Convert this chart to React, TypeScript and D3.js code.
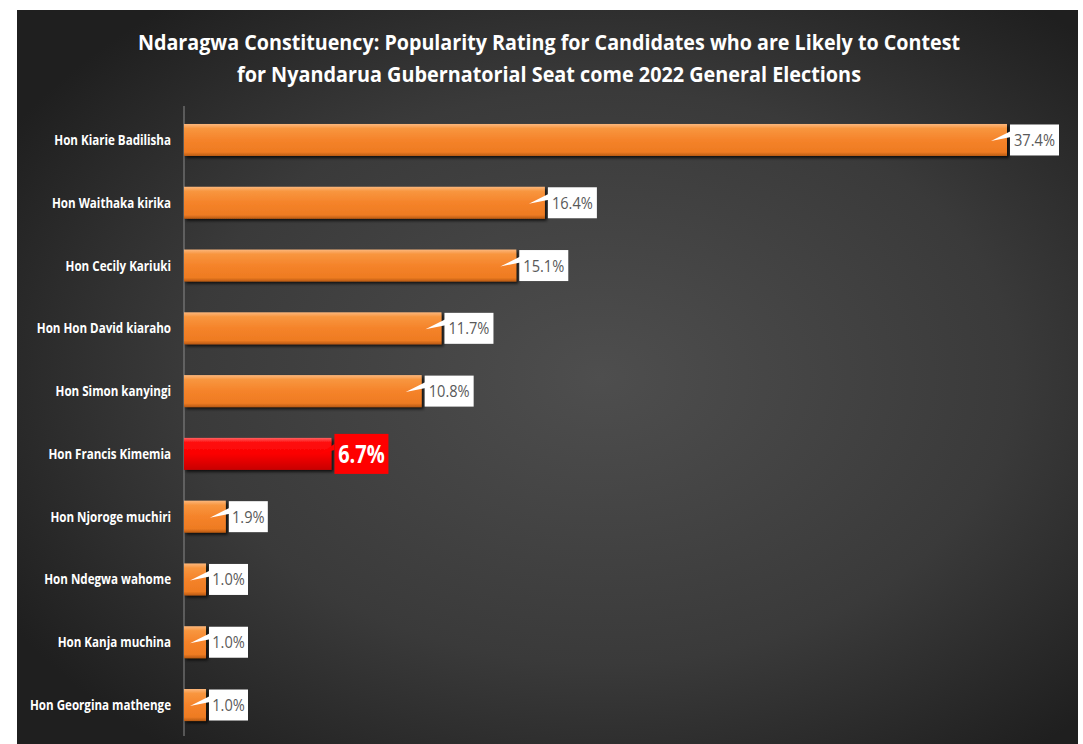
import React from "react";
import * as d3 from "d3";

const categories = [
  "Hon Kiarie Badilisha",
  "Hon Waithaka kirika",
  "Hon Cecily Kariuki",
  "Hon Hon David kiaraho",
  "Hon Simon kanyingi",
  "Hon Francis Kimemia",
  "Hon Njoroge muchiri",
  "Hon Ndegwa wahome",
  "Hon Kanja muchina",
  "Hon Georgina mathenge",
];
const values = [37.4, 16.4, 15.1, 11.7, 10.8, 6.7, 1.9, 1.0, 1.0, 1.0];
const highlighted = ["Hon Francis Kimemia"];
const titleLines = [
  "Ndaragwa Constituency: Popularity Rating for Candidates who are Likely to Contest",
  "for Nyandarua Gubernatorial Seat come 2022 General Elections",
];

const W = 1083;
const H = 744;
const FONT = "'Open Sans', sans-serif";

export default function App() {
  const x = d3.scaleLinear().domain([0, 37.4]).range([184, 1007]);
  const y = d3
    .scaleBand<string>()
    .domain(categories)
    .range([108.6, 736.4])
    .paddingInner(0.49)
    .paddingOuter(0.245);
  const bh = y.bandwidth();

  return (
    <svg
      width={W}
      height={H}
      style={{ position: "absolute", left: 0, top: 0, display: "block" }}
    >
      <defs>
        <radialGradient id="bg" cx="0.55" cy="0.5" r="0.65">
          <stop offset="0" stopColor="#4e4e4e" />
          <stop offset="0.6" stopColor="#3a3a3a" />
          <stop offset="1" stopColor="#1f1f1f" />
        </radialGradient>
        <linearGradient id="orange" x1="0" y1="0" x2="0" y2="1">
          <stop offset="0" stopColor="#fcb77c" />
          <stop offset="0.14" stopColor="#f8963f" />
          <stop offset="0.5" stopColor="#f5832a" />
          <stop offset="0.88" stopColor="#ee7b22" />
          <stop offset="1" stopColor="#b85a14" />
        </linearGradient>
        <linearGradient id="red" x1="0" y1="0" x2="0" y2="1">
          <stop offset="0" stopColor="#ff6060" />
          <stop offset="0.14" stopColor="#ff1010" />
          <stop offset="0.5" stopColor="#fb0000" />
          <stop offset="1" stopColor="#c80000" />
        </linearGradient>
        <filter id="shadow" x="-10%" y="-30%" width="130%" height="170%">
          <feDropShadow dx="2" dy="2" stdDeviation="1.5" floodColor="#000" floodOpacity="0.75" />
        </filter>
      </defs>
      <rect x={0} y={0} width={W} height={H} fill="#ffffff" />
      <rect x={17} y={10} width={1061} height={734} fill="url(#bg)" />
      {titleLines.map((t, i) => (
        <text
          key={i}
          x={549}
          y={50 + i * 32}
          textAnchor="middle"
          fill="#ffffff"
          fontFamily={FONT}
          fontWeight="bold"
          fontSize={22}
          textLength={i === 0 ? 822 : 624}
          lengthAdjust="spacingAndGlyphs"
        >
          {t}
        </text>
      ))}
      <line x1={184} x2={184} y1={106} y2={736} stroke="#8a8a8a" strokeWidth={1} />
      {categories.map((c, i) => {
        const v = values[i];
        const yc = (y(c) as number) + bh / 2;
        const x0 = x(0);
        const x1 = x(v);
        const hi = highlighted.includes(c);
        const label = v.toFixed(1) + "%";
        const bw = hi ? 54 : label.length >= 5 ? 49 : 39;
        const bhgt = hi ? 40 : 31;
        const bx = x1 + 3;
        const by = yc - bhgt / 2;
        return (
          <g key={c}>
            <text
              transform={`translate(171,${yc + 5}) scale(0.8,1)`}
              textAnchor="end"
              fill="#ffffff"
              fontFamily={FONT}
              fontWeight="bold"
              fontSize={14.5}
            >
              {c}
            </text>
            <rect
              x={x0}
              y={yc - bh / 2}
              width={x1 - x0}
              height={bh}
              fill={hi ? "url(#red)" : "url(#orange)"}
              filter="url(#shadow)"
            />
            {hi ? (
              <g>
                <path
                  d={`M${bx},${yc - 10} L${x1 - 12},${yc} L${bx},${yc - 4} Z`}
                  fill="#ff0000"
                />
                <rect x={bx} y={by} width={bw} height={bhgt} fill="#ff0000" />
                <text
                  transform={`translate(${bx + bw / 2},${yc + 9}) scale(0.8,1)`}
                  textAnchor="middle"
                  fill="#ffffff"
                  fontFamily={FONT}
                  fontWeight="bold"
                  fontSize={25}
                >
                  {label}
                </text>
              </g>
            ) : (
              <g>
                <rect x={bx} y={by} width={bw} height={bhgt} fill="#ffffff" />
                <path
                  d={`M${bx + 1},${yc - 9} L${bx - 19},${yc + 1} L${bx + 1},${yc - 3} Z`}
                  fill="#ffffff"
                />
                <text
                  transform={`translate(${bx + bw / 2},${yc + 6}) scale(0.86,1)`}
                  textAnchor="middle"
                  fill="#595959"
                  fontFamily={FONT}
                  fontSize={17}
                >
                  {label}
                </text>
              </g>
            )}
          </g>
        );
      })}
    </svg>
  );
}
